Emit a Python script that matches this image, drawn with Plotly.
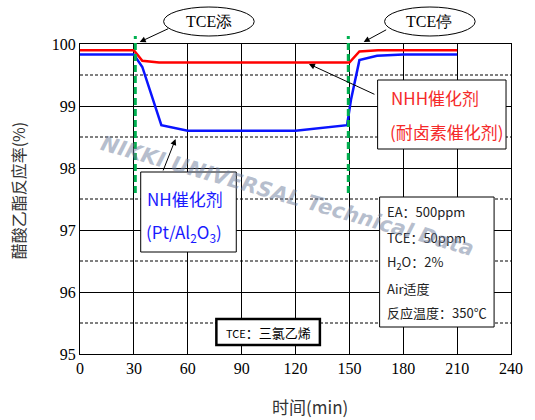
import plotly.graph_objects as go

# ---- data ----
time_nhh = [0, 30, 34.7, 44, 150, 155.6, 166, 210]
conv_nhh = [99.9, 99.9, 99.73, 99.7, 99.7, 99.88, 99.9, 99.9]

time_nh = [0, 30, 34.7, 45.3, 60, 120, 148.7, 150.9, 155.6, 165.4, 180, 210]
conv_nh = [99.83, 99.83, 99.63, 98.69, 98.6, 98.6, 98.69, 99.1, 99.74, 99.81, 99.83, 99.83]

tce_events = [30.8, 149.4]
x_ticks = [0, 30, 60, 90, 120, 150, 180, 210, 240]
y_ticks = [95, 96, 97, 98, 99, 100]
y_half = [95.5, 96.5, 97.5, 98.5, 99.5]

# pixel geometry helpers (plot area 80..513 x, 44..354 y)
L, R, T, B = 80, 513, 44, 354
def px(x):
    return (x - L) / (R - L)
def py(y):
    return (B - y) / (B - T)

CJK = "Noto Sans CJK SC"
SERIF = "Liberation Serif"

fig = go.Figure()
fig.add_trace(go.Scatter(x=time_nhh, y=conv_nhh, mode="lines",
                         line=dict(color="#ff0000", width=2.5), showlegend=False))
fig.add_trace(go.Scatter(x=time_nh, y=conv_nh, mode="lines",
                         line=dict(color="#0a14ff", width=2.5), showlegend=False))

shapes = []
# dashed half grid lines
for v in y_half:
    shapes.append(dict(type="line", xref="paper", yref="y", x0=0, x1=1, y0=v, y1=v,
                       line=dict(color="black", width=1, dash="3px,2px"), layer="below"))
# green TCE lines
for e in tce_events:
    shapes.append(dict(type="line", xref="x", yref="paper", x0=e, x1=e,
                       y0=py(193), y1=py(36),
                       line=dict(color="#00b050", width=3, dash="7px,4px")))
# ellipses
shapes.append(dict(type="circle", xref="paper", yref="paper",
                   x0=px(164), x1=px(255), y0=py(36), y1=py(7),
                   line=dict(color="black", width=1), fillcolor="white"))
shapes.append(dict(type="circle", xref="paper", yref="paper",
                   x0=px(386), x1=px(477), y0=py(36), y1=py(7),
                   line=dict(color="black", width=1), fillcolor="white"))
# boxes
def rect(x0, x1, y0, y1, w=1):
    shapes.append(dict(type="rect", xref="paper", yref="paper",
                       x0=px(x0), x1=px(x1), y0=py(y1), y1=py(y0),
                       line=dict(color="black", width=w), fillcolor="white"))
rect(379, 508, 80, 149)
rect(141, 237, 172, 252)
rect(381, 496, 197, 327)
rect(217, 321, 319, 345, w=2.5)

ann = []
def text(x, y, t, size, color="black", family=CJK, xanchor="center"):
    ann.append(dict(xref="paper", yref="paper", x=px(x), y=py(y), text=t,
                    showarrow=False, xanchor=xanchor, yanchor="middle",
                    font=dict(size=size, color=color, family=family)))

text(209.5, 22, "TCE添", 16, family=SERIF)
text(431, 22, "TCE停", 16, family=SERIF)
text(390, 97, "NHH催化剂", 17, color="#f52a2a", xanchor="left")
text(389, 131, "(耐卤素催化剂)", 17, color="#f52a2a", xanchor="left")
text(145, 198, "NH催化剂", 17, color="#1a1aff", xanchor="left")
text(144, 233, "(Pt/Al<sub>2</sub>O<sub>3</sub>)", 17, color="#1a1aff", xanchor="left")
cond = ["EA：500ppm", "TCE：50ppm", "H<sub>2</sub>O：2%", "Air适度", "反应温度：350℃"]
cond_y = [211, 237, 262, 288, 312]
for t, yy in zip(cond, cond_y):
    text(386, yy, t, 13, color="#222222", xanchor="left")
text(269, 332, "<span style='font-size:11px'>TCE</span>：三氯乙烯", 13)

# axis titles
ann.append(dict(xref="paper", yref="paper", x=px(18), y=py(190), text="醋酸乙酯反应率(%)",
                showarrow=False, textangle=-90, xanchor="center", yanchor="middle",
                font=dict(size=16, color="#333333", family=CJK)))
text(311, 406, "时间(min)", 17, color="#333333")

# arrows
def arrow(hx, hy, tx, ty):
    ann.append(dict(xref="paper", yref="paper", x=px(hx), y=py(hy),
                    ax=tx - hx, ay=ty - hy, axref="pixel", ayref="pixel",
                    text="", showarrow=True, arrowhead=2, arrowsize=1.2,
                    arrowwidth=1, arrowcolor="black"))
arrow(140, 42, 170, 28)
arrow(365, 42, 389, 29)
arrow(310, 64, 377, 95)
arrow(176, 139, 163, 172)

# watermark
ann.append(dict(xref="paper", yref="paper", x=px(288), y=py(196),
                text="<b><i>NIKKI UNIVERSAL Technical Data</i></b>", showarrow=False,
                textangle=16, xanchor="center", yanchor="middle",
                font=dict(size=21, color="rgba(110,125,155,0.5)", family="DejaVu Sans")))

fig.update_layout(
    width=535, height=420,
    margin=dict(l=L, r=535 - R, t=T, b=420 - B),
    paper_bgcolor="white", plot_bgcolor="white",
    shapes=shapes, annotations=ann, showlegend=False,
    xaxis=dict(range=[0, 240], tickvals=x_ticks, showgrid=True, gridcolor="black",
               gridwidth=1, showline=True, linecolor="black", linewidth=1, mirror=True,
               zeroline=False, ticks="", tickfont=dict(family=SERIF, size=16, color="black")),
    yaxis=dict(range=[95, 100], tickvals=y_ticks, showgrid=True, gridcolor="black",
               gridwidth=1, showline=True, linecolor="black", linewidth=1, mirror=True,
               zeroline=False, ticks="", tickfont=dict(family=SERIF, size=16, color="black")),
)
fig.write_html("out.html", config={"displayModeBar": False},
               post_script="document.body.style.margin='0';")
